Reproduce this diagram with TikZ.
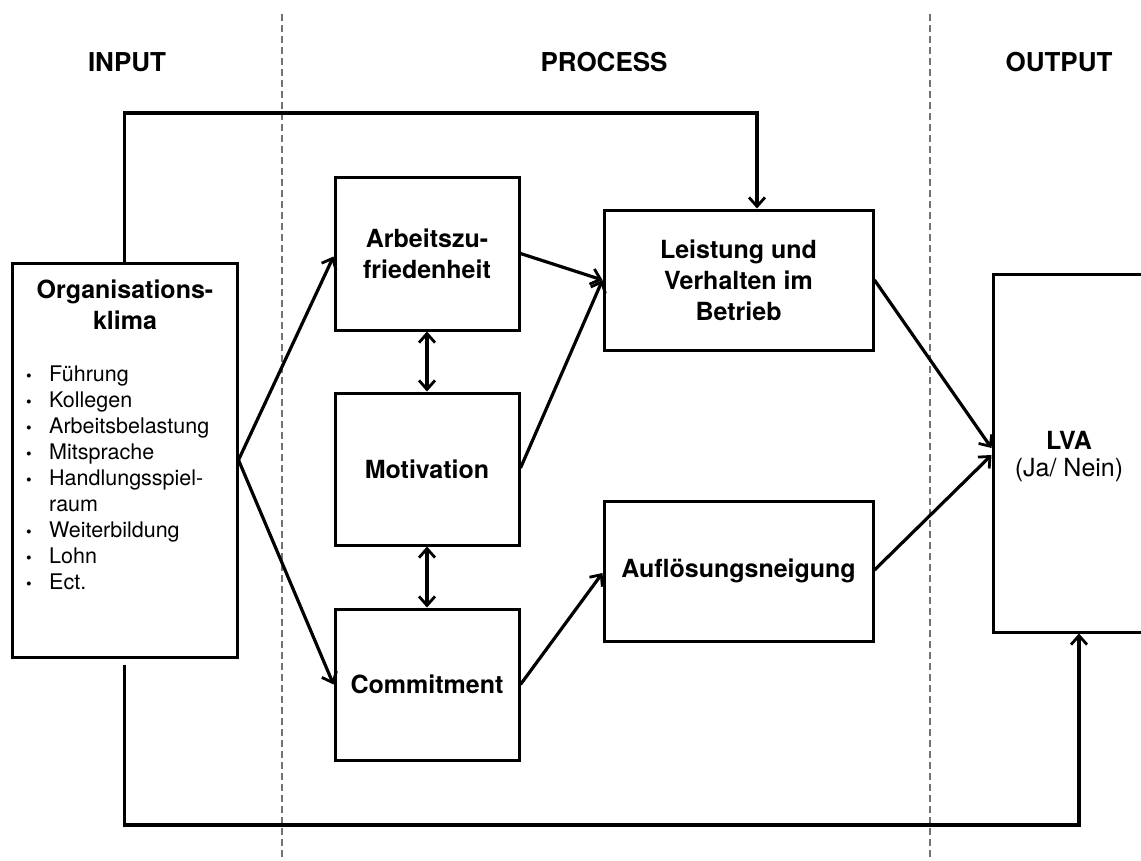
\documentclass[tikz,border=0pt]{standalone}
\usepackage{fontspec}
\setmainfont{TeX Gyre Heros}
\usetikzlibrary{arrows.meta}
\tikzset{vtip/.tip={Straight Barb[length=9pt,width=16pt,line width=2.8pt]}}
\newcommand{\listdot}{{\fontsize{16}{16}\selectfont\textbullet}}
\begin{document}
\begin{tikzpicture}[x=1pt,y=-1pt,
  box/.style={draw, line width=3pt, rectangle, inner sep=0pt, align=center,
    font=\bfseries\fontsize{25}{31}\selectfont},
  txt/.style={inner sep=0pt, align=center, font=\bfseries\fontsize{25}{31}\selectfont},
  head/.style={inner sep=0pt, font=\bfseries\fontsize{26}{30}\selectfont},
  link/.style={line width=3.2pt, -{vtip}},
  both/.style={line width=3.2pt, {vtip}-{vtip}},
  divider/.style={draw=black!55, line width=1.3pt, dash pattern=on 7pt off 4pt}
]
\clip (0,0) rectangle (1141,860);
\fill[white] (0,0) rectangle (1141,860);

% section dividers
\coordinate (d1t) at (282,14);  \coordinate (d1b) at (282,860);
\coordinate (d2t) at (930,14);  \coordinate (d2b) at (930,860);
\draw[divider] (d1t) -- (d1b);
\draw[divider] (d2t) -- (d2b);

% section headings
\node[head] (hin)  at (127,62) {INPUT};
\node[head] (hpro) at (604,62) {PROCESS};
\node[head] (hout) at (1059,62) {OUTPUT};

% input box
\node[box, minimum width=225pt, minimum height=394pt] (org) at (124.5,460) {};
\node[txt] (orgtitle) at (125,305) {Organisations-\\klima};
\node[inner sep=0pt, anchor=north west, font=\fontsize{21.5}{26}\selectfont] (orglist) at (26,363)
{\begin{tabular}{@{}p{23pt}@{}l@{}}
\listdot & Führung\\
\listdot & Kollegen\\
\listdot & Arbeitsbelastung\\
\listdot & Mitsprache\\
\listdot & Handlungsspiel-\\
 & raum\\
\listdot & Weiterbildung\\
\listdot & Lohn\\
\listdot & Ect.
\end{tabular}};

% process boxes
\node[box, minimum width=184pt, minimum height=153pt] (az)  at (427,253.5) {Arbeitszu-\\friedenheit};
\node[box, minimum width=184pt, minimum height=152pt] (mot) at (427,469) {Motivation};
\node[box, minimum width=184pt, minimum height=151pt] (com) at (427,684.5) {Commitment};
\node[box, minimum width=269pt, minimum height=140pt] (leist) at (738.5,280) {Leistung und\\Verhalten im\\Betrieb};
\node[box, minimum width=269pt, minimum height=140pt] (auf) at (738.5,571) {Auflösungsneigung};

% output box
\node[box, minimum width=207pt, minimum height=358pt] (lva) at (1096.5,453) {};
\node[txt] (lvatext) at (1069,457) {LVA\\[-4pt]\mdseries(Ja/ Nein)};

% connectors
\coordinate (topbend) at (757,113);
\coordinate (botbend) at (1079,825);
\draw[link] (org.north) |- (topbend) -- (topbend |- leist.north);
\draw[link] ([yshift=-6pt]org.south) |- (botbend) -- (botbend |- lva.south);

\draw[link] (org.east) -- ([yshift=-3pt]az.west);
\draw[link] (org.east) -- (com.west);
\draw[link] (az.east) -- (leist.west);
\draw[link] ([yshift=1pt]mot.east) -- (leist.west);
\draw[link] (com.east) -- ([yshift=-2pt]auf.west);
\draw[link] (leist.east) -- ([yshift=5pt]lva.west);
\draw[link] ([yshift=1pt]auf.east) -- ([yshift=-2pt]lva.west);
\draw[both] (az.south) -- (mot.north);
\draw[both] (mot.south) -- (com.north);
\end{tikzpicture}
\end{document}
